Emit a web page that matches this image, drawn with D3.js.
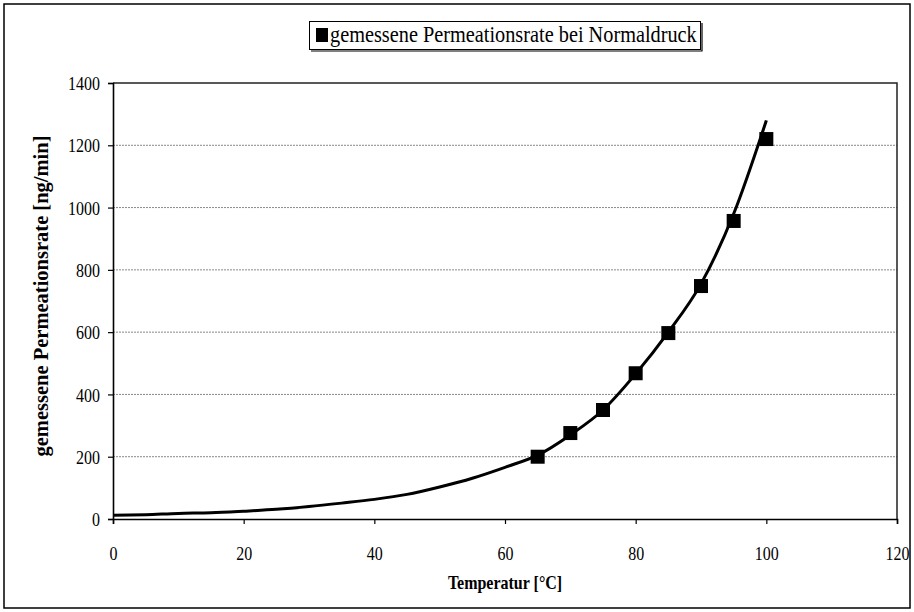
<!DOCTYPE html>
<html><head><meta charset="utf-8">
<script src="https://cdn.jsdelivr.net/npm/d3@7"></script>
<style>html,body{margin:0;padding:0;background:#fff;}svg{display:block;} text{font-family:'Liberation Serif','Times New Roman',serif;}</style>
</head><body>
<svg id="c" width="914" height="612"></svg>
<script>
// measured points
const measTemp = [65, 70, 75, 80, 85, 90, 95, 100];
const measRate = [200, 276, 350, 468, 597, 748, 957, 1220];
// fitted curve
const curveTemp = [0, 5, 10, 15, 20, 25, 30, 35, 40, 45, 50, 55, 60, 65, 70, 75, 80, 85, 90, 95, 100];
const curveRate = [12, 14, 18, 20, 25, 31, 40, 51, 63, 79, 103, 131, 166, 205, 270, 350, 466, 600, 755, 980, 1280];
const xTicks = [0, 20, 40, 60, 80, 100, 120];
const yTicks = [0, 200, 400, 600, 800, 1000, 1200, 1400];
const legendLabel = "gemessene Permeationsrate bei Normaldruck";
const xTitle = "Temperatur [°C]";
const yTitle = "gemessene Permeationsrate [ng/min]";

const svg = d3.select("#c");
const font = "'Liberation Serif','Times New Roman',serif";
const SY = 1.22; // vertical stretch of the original picture's text
const L = 113, R = 897, T = 83, B = 519;
const x = d3.scaleLinear().domain([0, 120]).range([L, R]);
const y = d3.scaleLinear().domain([0, 1400]).range([B, T]);

// outer border
svg.append("rect").attr("x", 4).attr("y", 4).attr("width", 906).attr("height", 604)
  .attr("fill", "none").attr("stroke", "#000").attr("stroke-width", 1.5);

// gridlines
svg.append("g").selectAll("line").data(yTicks.filter(d => d > 0 && d < 1400)).join("line")
  .attr("x1", L).attr("x2", R).attr("y1", d => y(d)).attr("y2", d => y(d))
  .attr("stroke", "#888").attr("stroke-width", 1).attr("stroke-dasharray", "2,1");

// plot frame top & right
svg.append("path").attr("d", `M${L},${T}H${R}V${B}`).attr("fill", "none")
  .attr("stroke", "#222").attr("stroke-width", 1.5);

// axes
const xAxis = svg.append("g").attr("transform", `translate(0,${B})`)
  .call(d3.axisBottom(x).tickValues(xTicks).tickSize(5).tickFormat(d3.format("d")));
const yAxis = svg.append("g").attr("transform", `translate(${L},0)`)
  .call(d3.axisLeft(y).tickValues(yTicks).tickSize(5).tickFormat(d3.format("d")));
[xAxis, yAxis].forEach(a => {
  a.attr("font-family", font);
  a.select(".domain").attr("stroke", "#000").attr("stroke-width", 1.6);
  a.selectAll(".tick line").attr("stroke", "#000").attr("stroke-width", 1.2);
  a.selectAll("text").attr("font-family", font).attr("font-size", 16).attr("fill", "#000");
});
xAxis.selectAll(".tick text").attr("y", null).attr("dy", null)
  .attr("transform", `translate(0,40.5) scale(1,${SY})`);
yAxis.selectAll(".tick text").attr("x", null).attr("dy", null).attr("text-anchor", "end")
  .attr("transform", `translate(-13,6.6) scale(1,${SY})`);

// curve
const pts = curveTemp.map((t, i) => [t, curveRate[i]]);
svg.append("path").datum(pts)
  .attr("d", d3.line().x(d => x(d[0])).y(d => y(d[1])).curve(d3.curveMonotoneX))
  .attr("fill", "none").attr("stroke", "#000").attr("stroke-width", 3);

// markers
const m = measTemp.map((t, i) => [t, measRate[i]]);
svg.append("g").selectAll("rect").data(m).join("rect")
  .attr("x", d => x(d[0]) - 7).attr("y", d => y(d[1]) - 7)
  .attr("width", 14).attr("height", 14).attr("fill", "#000");

// legend
const lg = svg.append("g");
lg.append("rect").attr("x", 309.5).attr("y", 21.5).attr("width", 391).attr("height", 28)
  .attr("fill", "#fff").attr("stroke", "#000").attr("stroke-width", 1);
lg.append("path").attr("d", "M311,51H702V23").attr("fill", "none").attr("stroke", "#000").attr("stroke-width", 1.2);
lg.append("rect").attr("x", 316).attr("y", 28).attr("width", 12).attr("height", 14).attr("fill", "#000");
lg.append("text").attr("transform", `translate(330,42) scale(1,1.1)`).attr("font-family", font).attr("font-size", 20.3)
  .attr("fill", "#000").text(legendLabel);

// titles
svg.append("text").attr("transform", `translate(${(L + R) / 2},589) scale(1,${SY})`).attr("text-anchor", "middle")
  .attr("font-family", font).attr("font-size", 16).attr("font-weight", "bold").text(xTitle);
svg.append("text").attr("transform", `translate(48,296) rotate(-90)`)
  .attr("text-anchor", "middle").attr("font-family", font).attr("font-size", 20.5)
  .attr("font-weight", "bold").text(yTitle);
</script>
</body></html>
